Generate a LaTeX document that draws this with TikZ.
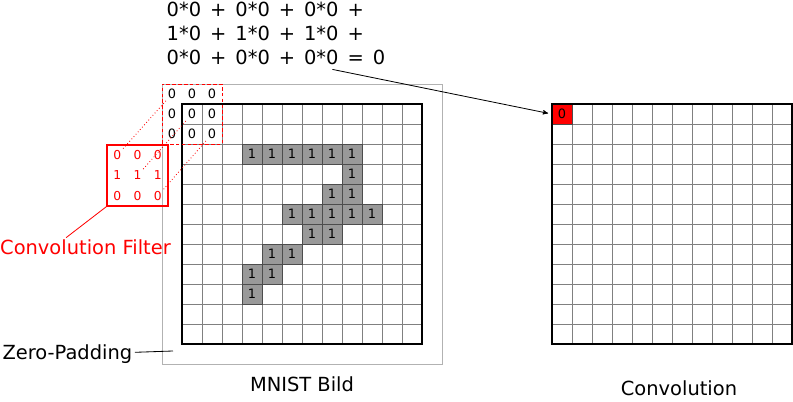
\documentclass[tikz,border=0pt]{standalone}
\usepackage{fontspec}
\setmainfont{DejaVu Sans}
\newfontfamily\eqfont[WordSpace=1.45]{DejaVu Sans}
\usetikzlibrary{arrows,calc}

\tikzset{
  onecell/.style={inner sep=0pt, minimum size=0.6cm, fill=gray!80, draw=gray!60!black, line width=0.7pt, font=\fontsize{11}{12}\selectfont},
  zerocell/.style={inner sep=1.5pt, font=\fontsize{11}{12}\selectfont},
  fcell/.style={inner sep=1.5pt, text=red, font=\fontsize{10.5}{11}\selectfont},
  lbl/.style={inner sep=2pt, font=\fontsize{16.6}{20}\selectfont},
  eqtxt/.style={font=\eqfont\fontsize{16.6}{20}\selectfont},
  gridln/.style={draw=gray, line width=0.6pt, step=0.6cm},
}

\begin{document}
\begin{tikzpicture}[x=0.6cm, y=0.6cm, >=stealth']
    \useasboundingbox (0,0) rectangle (39.65,20.1);

    % Zero-Padding and MNIST image
    \draw [gray!60, line width=0.7pt] (8.1,1.9) rectangle (22.1,15.9);
    \draw [gridln, shift={(9.1,2.9)}] (0,0) grid (12,12);
    \foreach \c/\r in {3/2,4/2,5/2,6/2,7/2,8/2,8/3,7/4,8/4,5/5,6/5,7/5,8/5,9/5,6/6,7/6,4/7,5/7,3/8,4/8,3/9}
        \node [onecell] (one-\c-\r) at (9.6+\c, 14.4-\r) {1};
    \draw [line width=1.5pt] (9.1,2.9) rectangle (21.1,14.9);

    % Nodes {w11 .. w33}, the zeros under the filter
    \node [zerocell] (w11) at (8.6,15.4)  {0};
    \node [zerocell] (w12) at (9.6,15.4)  {0};
    \node [zerocell] (w13) at (10.6,15.4) {0};
    \node [zerocell] (w21) at (8.6,14.4)  {0};
    \node [zerocell] (w22) at (9.6,14.4)  {0};
    \node [zerocell] (w23) at (10.6,14.4) {0};
    \node [zerocell] (w31) at (8.6,13.4)  {0};
    \node [zerocell] (w32) at (9.6,13.4)  {0};
    \node [zerocell] (w33) at (10.6,13.4) {0};
    \draw [red, densely dashed, line width=0.6pt] (8.1,12.9) rectangle (11.1,15.9);

    % Nodes {f11 .. f33}, the filter
    \node [draw=red, line width=1.2pt, minimum size=1.83cm, inner sep=0pt] (flt) at (6.875,11.325) {};
    \node [fcell] (f11) at (5.86,12.34) {0};
    \node [fcell] (f12) at (6.875,12.34) {0};
    \node [fcell] (f13) at (7.89,12.34) {0};
    \node [fcell] (f21) at (5.86,11.325) {1};
    \node [fcell] (f22) at (6.875,11.325) {1};
    \node [fcell] (f23) at (7.89,11.325) {1};
    \node [fcell] (f31) at (5.86,10.31) {0};
    \node [fcell] (f32) at (6.875,10.31) {0};
    \node [fcell] (f33) at (7.89,10.31) {0};

    % Paths filter -> window
    \draw [red, dotted, line width=0.7pt] (f11) -- (w11);
    \draw [red, dotted, line width=0.7pt] (f22) -- (w22);
    \draw [red, dotted, line width=0.7pt] (f33) -- (w33);

    % Convolution result
    \draw [gridln, shift={(27.6,2.9)}] (0,0) grid (12,12);
    \node [onecell, fill=red] (res) at (28.1,14.4) {0};
    \draw [line width=1.5pt] (27.6,2.9) rectangle (39.6,14.9);

    % Equation
    \node [eqtxt, anchor=base west] (eq1) at (8.13,19.25) {0*0 + 0*0 + 0*0 +};
    \node [eqtxt, anchor=base west] (eq2) at (8.13,18.05) {1*0 + 1*0 + 1*0 +};
    \node [eqtxt, anchor=base west] (eq3) at (8.13,16.85) {0*0 + 0*0 + 0*0 = 0};
    \draw [->, line width=0.7pt, shorten >=3pt] (eq3) -- (res.west);

    % Labels
    \node [lbl, text=red, anchor=base west] (lblflt) at (-0.12,7.35) {Convolution Filter};
    \draw [red, line width=0.7pt] (flt.south west) -- ($(lblflt.north west)!0.39!(lblflt.north east)$);
    \node [lbl, anchor=base west] (lblzp) at (0,2.1) {Zero-Padding};
    \coordinate (zpend) at (8.65,2.55);
    \draw [line width=0.7pt] (lblzp) -- (zpend);
    \node [lbl, anchor=base] (lblmn) at (15.1,0.5) {MNIST Bild};
    \node [lbl, anchor=base] (lblcv) at (33.95,0.32) {Convolution};
\end{tikzpicture}
\end{document}
